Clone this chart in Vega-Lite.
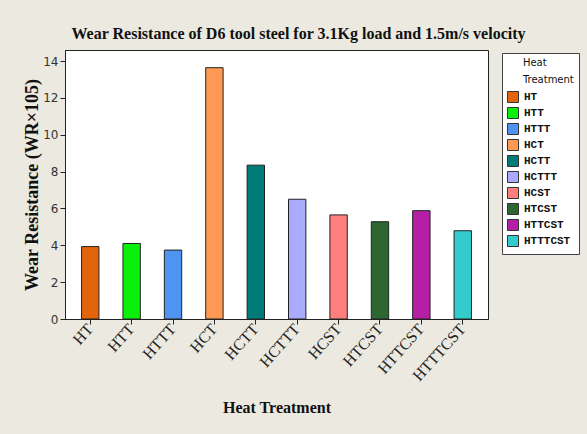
{
  "$schema": "https://vega.github.io/schema/vega-lite/v6.json",
  "width": 423,
  "height": 269,
  "autosize": {"type": "none"},
  "padding": {"left": 65, "top": 50, "right": 99, "bottom": 115},
  "background": "#ECE9E0",
  "title": {
    "text": "Wear Resistance of D6 tool steel for 3.1Kg load and 1.5m/s velocity",
    "font": "Liberation Serif",
    "fontSize": 16,
    "fontWeight": "bold",
    "color": "#111",
    "anchor": "middle",
    "frame": "group",
    "dx": 22,
    "offset": 8
  },
  "data": {
    "values": [
      {"treatment": "HT", "wr": 3.93},
      {"treatment": "HTT", "wr": 4.1},
      {"treatment": "HTTT", "wr": 3.74},
      {"treatment": "HCT", "wr": 13.64},
      {"treatment": "HCTT", "wr": 8.35},
      {"treatment": "HCTTT", "wr": 6.5},
      {"treatment": "HCST", "wr": 5.65},
      {"treatment": "HTCST", "wr": 5.28},
      {"treatment": "HTTCST", "wr": 5.88},
      {"treatment": "HTTTCST", "wr": 4.79}
    ]
  },
  "mark": {"type": "bar", "stroke": "#222", "strokeWidth": 1},
  "encoding": {
    "x": {
      "field": "treatment",
      "type": "nominal",
      "sort": null,
      "scale": {"paddingInner": 0.58, "paddingOuter": 0.4},
      "axis": {
        "title": "Heat Treatment",
        "titleFont": "Liberation Serif",
        "titleFontSize": 16,
        "titleFontWeight": "bold",
        "titleColor": "#111",
        "titlePadding": 16,
        "labelAngle": -48,
        "labelFont": "Liberation Serif",
        "labelFontSize": 16,
        "labelColor": "#222",
        "labelPadding": 2,
        "domainColor": "#222",
        "tickColor": "#222",
        "tickSize": 5
      }
    },
    "y": {
      "field": "wr",
      "type": "quantitative",
      "scale": {"domain": [0, 14.6], "nice": false},
      "axis": {
        "title": "Wear Resistance (WR×105)",
        "titleFont": "Liberation Serif",
        "titleFontSize": 18,
        "titleFontWeight": "bold",
        "titleColor": "#111",
        "titlePadding": 1,
        "values": [0, 2, 4, 6, 8, 10, 12, 14],
        "grid": false,
        "labelFont": "DejaVu Sans",
        "labelFontSize": 12,
        "labelColor": "#333",
        "domainColor": "#222",
        "tickColor": "#222",
        "tickSize": 5
      }
    },
    "color": {
      "field": "treatment",
      "type": "nominal",
      "sort": null,
      "scale": {
        "domain": ["HT", "HTT", "HTTT", "HCT", "HCTT", "HCTTT", "HCST", "HTCST", "HTTCST", "HTTTCST"],
        "range": ["#E3650B", "#0BF00B", "#4F94F0", "#FF9A55", "#007B78", "#AAAAFF", "#FF7F7F", "#2D6630", "#B51FA5", "#33CCCC"]
      },
      "legend": {
        "title": ["\u200b\u00a0\u00a0\u00a0\u00a0\u00a0Heat", "\u200b\u00a0\u00a0\u00a0\u00a0\u00a0Treatment"],
        "orient": "none",
        "legendX": 437,
        "legendY": 3,
        "fillColor": "white",
        "strokeColor": "#444",
        "padding": 5,
        "titleFont": "DejaVu Sans",
        "titleFontSize": 10,
        "titleFontWeight": "normal",
        "titleColor": "#111",
        "titleLineHeight": 17,
        "titlePadding": 6,
        "labelFont": "Liberation Mono",
        "labelFontSize": 11,
        "labelFontWeight": "bold",
        "labelColor": "#111",
        "symbolType": "square",
        "symbolSize": 121,
        "symbolStrokeColor": "#333",
        "symbolStrokeWidth": 1,
        "symbolOpacity": 1,
        "rowPadding": 0,
        "labelOffset": 5
      }
    }
  },
  "config": {
    "view": {"stroke": "#222", "fill": "white"}
  }
}
